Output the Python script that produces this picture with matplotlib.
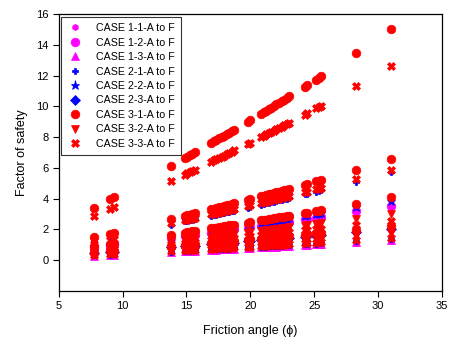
import matplotlib
matplotlib.use("Agg")
import matplotlib.pyplot as plt
import numpy as np

plt.rcParams["font.family"] = ["Liberation Sans", "DejaVu Sans"]

# friction angles (deg) shared by every case
PHI = [7.75, 9.0, 9.35, 13.75, 14.85, 15.05, 15.25, 15.45, 15.65,
       16.95, 17.15, 17.35, 17.55, 17.75, 17.95, 18.15, 18.35, 18.55, 18.75,
       19.8, 20.0, 20.85, 21.05, 21.25, 21.45, 21.65, 21.85, 22.05, 22.25,
       22.45, 22.65, 22.85, 23.05, 24.25, 24.45, 25.15, 25.35, 25.55, 28.3, 31.0]

# factor of safety, one row per visible A-F variant of each case
FS_1_1 = [[0.29, 0.33, 0.35, 0.51, 0.56, 0.56, 0.57, 0.58, 0.59, 0.64, 0.65, 0.66, 0.66, 0.67,
           0.68, 0.69, 0.70, 0.70, 0.71, 0.76, 0.76, 0.80, 0.81, 0.82, 0.83, 0.83, 0.84, 0.85,
           0.86, 0.87, 0.88, 0.88, 0.89, 0.95, 0.95, 0.99, 0.99, 1.00, 1.13, 1.26]]
FS_1_2 = [[0.80, 0.93, 0.97, 1.44, 1.56, 1.59, 1.61, 1.63, 1.65, 1.80, 1.82, 1.84, 1.87, 1.89,
           1.91, 1.93, 1.96, 1.98, 2.00, 2.12, 2.15, 2.25, 2.27, 2.29, 2.32, 2.34, 2.37, 2.39,
           2.41, 2.44, 2.46, 2.49, 2.51, 2.66, 2.68, 2.77, 2.80, 2.82, 3.18, 3.55]]
FS_1_3 = [[0.30, 0.35, 0.36, 0.54, 0.58, 0.59, 0.60, 0.61, 0.62, 0.67, 0.68, 0.69, 0.70, 0.70,
           0.71, 0.72, 0.73, 0.74, 0.75, 0.79, 0.80, 0.84, 0.85, 0.86, 0.86, 0.87, 0.88, 0.89,
           0.90, 0.91, 0.92, 0.93, 0.94, 0.99, 1.00, 1.03, 1.04, 1.05, 1.18, 1.32]]

FS_2_1 = [[0.31, 0.36, 0.38, 0.56, 0.61, 0.62, 0.63, 0.64, 0.64, 0.70, 0.71, 0.72, 0.73, 0.74,
           0.74, 0.75, 0.76, 0.77, 0.78, 0.83, 0.84, 0.88, 0.89, 0.89, 0.90, 0.91, 0.92, 0.93,
           0.94, 0.95, 0.96, 0.97, 0.98, 1.04, 1.05, 1.08, 1.09, 1.10, 1.24, 1.38],
          [1.29, 1.50, 1.56, 2.32, 2.52, 2.55, 2.59, 2.63, 2.66, 2.90, 2.93, 2.97, 3.00, 3.04,
           3.08, 3.11, 3.15, 3.19, 3.23, 3.42, 3.46, 3.62, 3.66, 3.69, 3.73, 3.77, 3.81, 3.85,
           3.89, 3.93, 3.96, 4.00, 4.04, 4.28, 4.32, 4.46, 4.50, 4.54, 5.11, 5.71]]
FS_2_2 = [[0.87, 1.01, 1.05, 1.57, 1.70, 1.72, 1.74, 1.77, 1.79, 1.95, 1.98, 2.00, 2.02, 2.05,
           2.07, 2.10, 2.12, 2.15, 2.17, 2.30, 2.33, 2.44, 2.46, 2.49, 2.51, 2.54, 2.57, 2.59,
           2.62, 2.64, 2.67, 2.70, 2.72, 2.88, 2.91, 3.00, 3.03, 3.06, 3.45, 3.85]]
FS_2_3 = [[0.46, 0.54, 0.56, 0.83, 0.90, 0.91, 0.93, 0.94, 0.95, 1.04, 1.05, 1.06, 1.08, 1.09,
           1.10, 1.11, 1.13, 1.14, 1.15, 1.22, 1.24, 1.30, 1.31, 1.32, 1.34, 1.35, 1.36, 1.38,
           1.39, 1.40, 1.42, 1.43, 1.45, 1.53, 1.55, 1.60, 1.61, 1.63, 1.83, 2.04]]

FS_3_1 = [[0.50, 0.59, 0.61, 0.91, 0.98, 0.99, 1.01, 1.02, 1.04, 1.13, 1.14, 1.16, 1.17, 1.18,
           1.20, 1.21, 1.23, 1.24, 1.26, 1.33, 1.35, 1.41, 1.42, 1.44, 1.45, 1.47, 1.48, 1.50,
           1.51, 1.53, 1.54, 1.56, 1.57, 1.67, 1.68, 1.74, 1.75, 1.77, 1.99, 2.22],
          [0.93, 1.08, 1.12, 1.66, 1.80, 1.83, 1.85, 1.88, 1.90, 2.07, 2.10, 2.12, 2.15, 2.18,
           2.20, 2.23, 2.26, 2.28, 2.31, 2.45, 2.48, 2.59, 2.62, 2.64, 2.67, 2.70, 2.73, 2.75,
           2.78, 2.81, 2.84, 2.86, 2.89, 3.06, 3.09, 3.19, 3.22, 3.25, 3.66, 4.09],
          [1.48, 1.73, 1.80, 2.67, 2.89, 2.93, 2.97, 3.01, 3.05, 3.32, 3.36, 3.41, 3.45, 3.49,
           3.53, 3.57, 3.62, 3.66, 3.70, 3.92, 3.97, 4.15, 4.20, 4.24, 4.28, 4.33, 4.37, 4.41,
           4.46, 4.50, 4.55, 4.59, 4.64, 4.91, 4.96, 5.12, 5.16, 5.21, 5.87, 6.55],
          [3.40, 3.96, 4.12, 6.12, 6.63, 6.72, 6.82, 6.91, 7.00, 7.62, 7.72, 7.81, 7.91, 8.00,
           8.10, 8.20, 8.29, 8.39, 8.49, 9.00, 9.10, 9.52, 9.62, 9.72, 9.82, 9.92, 10.03, 10.13,
           10.23, 10.33, 10.43, 10.53, 10.64, 11.26, 11.37, 11.74, 11.85, 11.95, 13.46, 15.02]]
FS_3_2 = [[0.39, 0.46, 0.48, 0.71, 0.77, 0.78, 0.79, 0.80, 0.81, 0.88, 0.89, 0.91, 0.92, 0.93,
           0.94, 0.95, 0.96, 0.97, 0.98, 1.04, 1.06, 1.10, 1.12, 1.13, 1.14, 1.15, 1.16, 1.17,
           1.19, 1.20, 1.21, 1.22, 1.23, 1.31, 1.32, 1.36, 1.37, 1.39, 1.56, 1.74],
          [0.68, 0.79, 0.82, 1.22, 1.33, 1.34, 1.36, 1.38, 1.40, 1.52, 1.54, 1.56, 1.58, 1.60,
           1.62, 1.64, 1.66, 1.68, 1.70, 1.80, 1.82, 1.90, 1.92, 1.94, 1.96, 1.98, 2.01, 2.03,
           2.05, 2.07, 2.09, 2.11, 2.13, 2.25, 2.27, 2.35, 2.37, 2.39, 2.69, 3.00]]
FS_3_3 = [[0.33, 0.39, 0.40, 0.60, 0.65, 0.66, 0.67, 0.68, 0.69, 0.75, 0.76, 0.77, 0.77, 0.78,
           0.79, 0.80, 0.81, 0.82, 0.83, 0.88, 0.89, 0.93, 0.94, 0.95, 0.96, 0.97, 0.98, 0.99,
           1.00, 1.01, 1.02, 1.03, 1.04, 1.10, 1.11, 1.15, 1.16, 1.17, 1.32, 1.47],
          [0.59, 0.68, 0.71, 1.05, 1.14, 1.16, 1.17, 1.19, 1.20, 1.31, 1.33, 1.34, 1.36, 1.38,
           1.39, 1.41, 1.43, 1.44, 1.46, 1.55, 1.57, 1.64, 1.66, 1.67, 1.69, 1.71, 1.72, 1.74,
           1.76, 1.78, 1.79, 1.81, 1.83, 1.94, 1.96, 2.02, 2.04, 2.06, 2.32, 2.58],
          [1.33, 1.55, 1.61, 2.40, 2.60, 2.64, 2.67, 2.71, 2.74, 2.99, 3.02, 3.06, 3.10, 3.14,
           3.17, 3.21, 3.25, 3.29, 3.33, 3.53, 3.57, 3.73, 3.77, 3.81, 3.85, 3.89, 3.93, 3.97,
           4.01, 4.05, 4.09, 4.13, 4.17, 4.41, 4.46, 4.60, 4.64, 4.69, 5.28, 5.89],
          [2.86, 3.33, 3.46, 5.14, 5.57, 5.65, 5.72, 5.80, 5.88, 6.40, 6.48, 6.56, 6.64, 6.72,
           6.80, 6.88, 6.97, 7.05, 7.13, 7.56, 7.64, 8.00, 8.08, 8.17, 8.25, 8.33, 8.42, 8.51,
           8.59, 8.68, 8.76, 8.85, 8.94, 9.46, 9.55, 9.86, 9.95, 10.04, 11.31, 12.62]]

LABELS = ["CASE 1-1-A to F", "CASE 1-2-A to F", "CASE 1-3-A to F",
          "CASE 2-1-A to F", "CASE 2-2-A to F", "CASE 2-3-A to F",
          "CASE 3-1-A to F", "CASE 3-2-A to F", "CASE 3-3-A to F"]

series = [FS_1_1, FS_1_2, FS_1_3, FS_2_1, FS_2_2, FS_2_3, FS_3_1, FS_3_2, FS_3_3]
styles = [
    dict(color="#ff00ff", marker="h", ms=4.5),
    dict(color="#ff00ff", marker="o", ms=6.2),
    dict(color="#ff00ff", marker="^", ms=6.2),
    dict(color="#0000ff", marker="P", ms=4.5),
    dict(color="#0000ff", marker="*", ms=6.8),
    dict(color="#0000ff", marker="D", ms=5.0),
    dict(color="#ff0000", marker="o", ms=6.2),
    dict(color="#ff0000", marker="v", ms=6.2),
    dict(color="#ff0000", marker="X", ms=6.0),
]

fig = plt.figure(figsize=(4.49, 3.40), dpi=100)
ax = fig.add_axes([0.131, 0.144, 0.853, 0.815])

for rows, label, st in zip(series, LABELS, styles):
    x = np.tile(PHI, len(rows))
    y = np.concatenate(rows)
    ax.plot(x, y, linestyle="none", marker=st["marker"], ms=st["ms"],
            color=st["color"], mec=st["color"], mew=0.5, label=label)

ax.set_xlim(5, 35)
ax.set_ylim(-2, 16)
ax.set_xticks(range(5, 36, 5))
ax.set_yticks(range(0, 17, 2))
ax.tick_params(axis="both", direction="out", length=4, width=0.8, labelsize=8,
               top=False, right=False, colors="black")
for sp in ax.spines.values():
    sp.set_linewidth(0.9)

ax.set_xlabel("Friction angle (\u03d5)", fontsize=9, labelpad=10)
ax.set_ylabel("Factor of safety", fontsize=9, labelpad=6)

leg = ax.legend(loc="upper left", fontsize=7.7, frameon=True, fancybox=False,
                edgecolor="black", borderpad=0.6, labelspacing=0.42,
                handletextpad=1.2, handlelength=1.4, borderaxespad=0.25)
leg.get_frame().set_linewidth(0.8)

fig.savefig("out.png", dpi=100)
